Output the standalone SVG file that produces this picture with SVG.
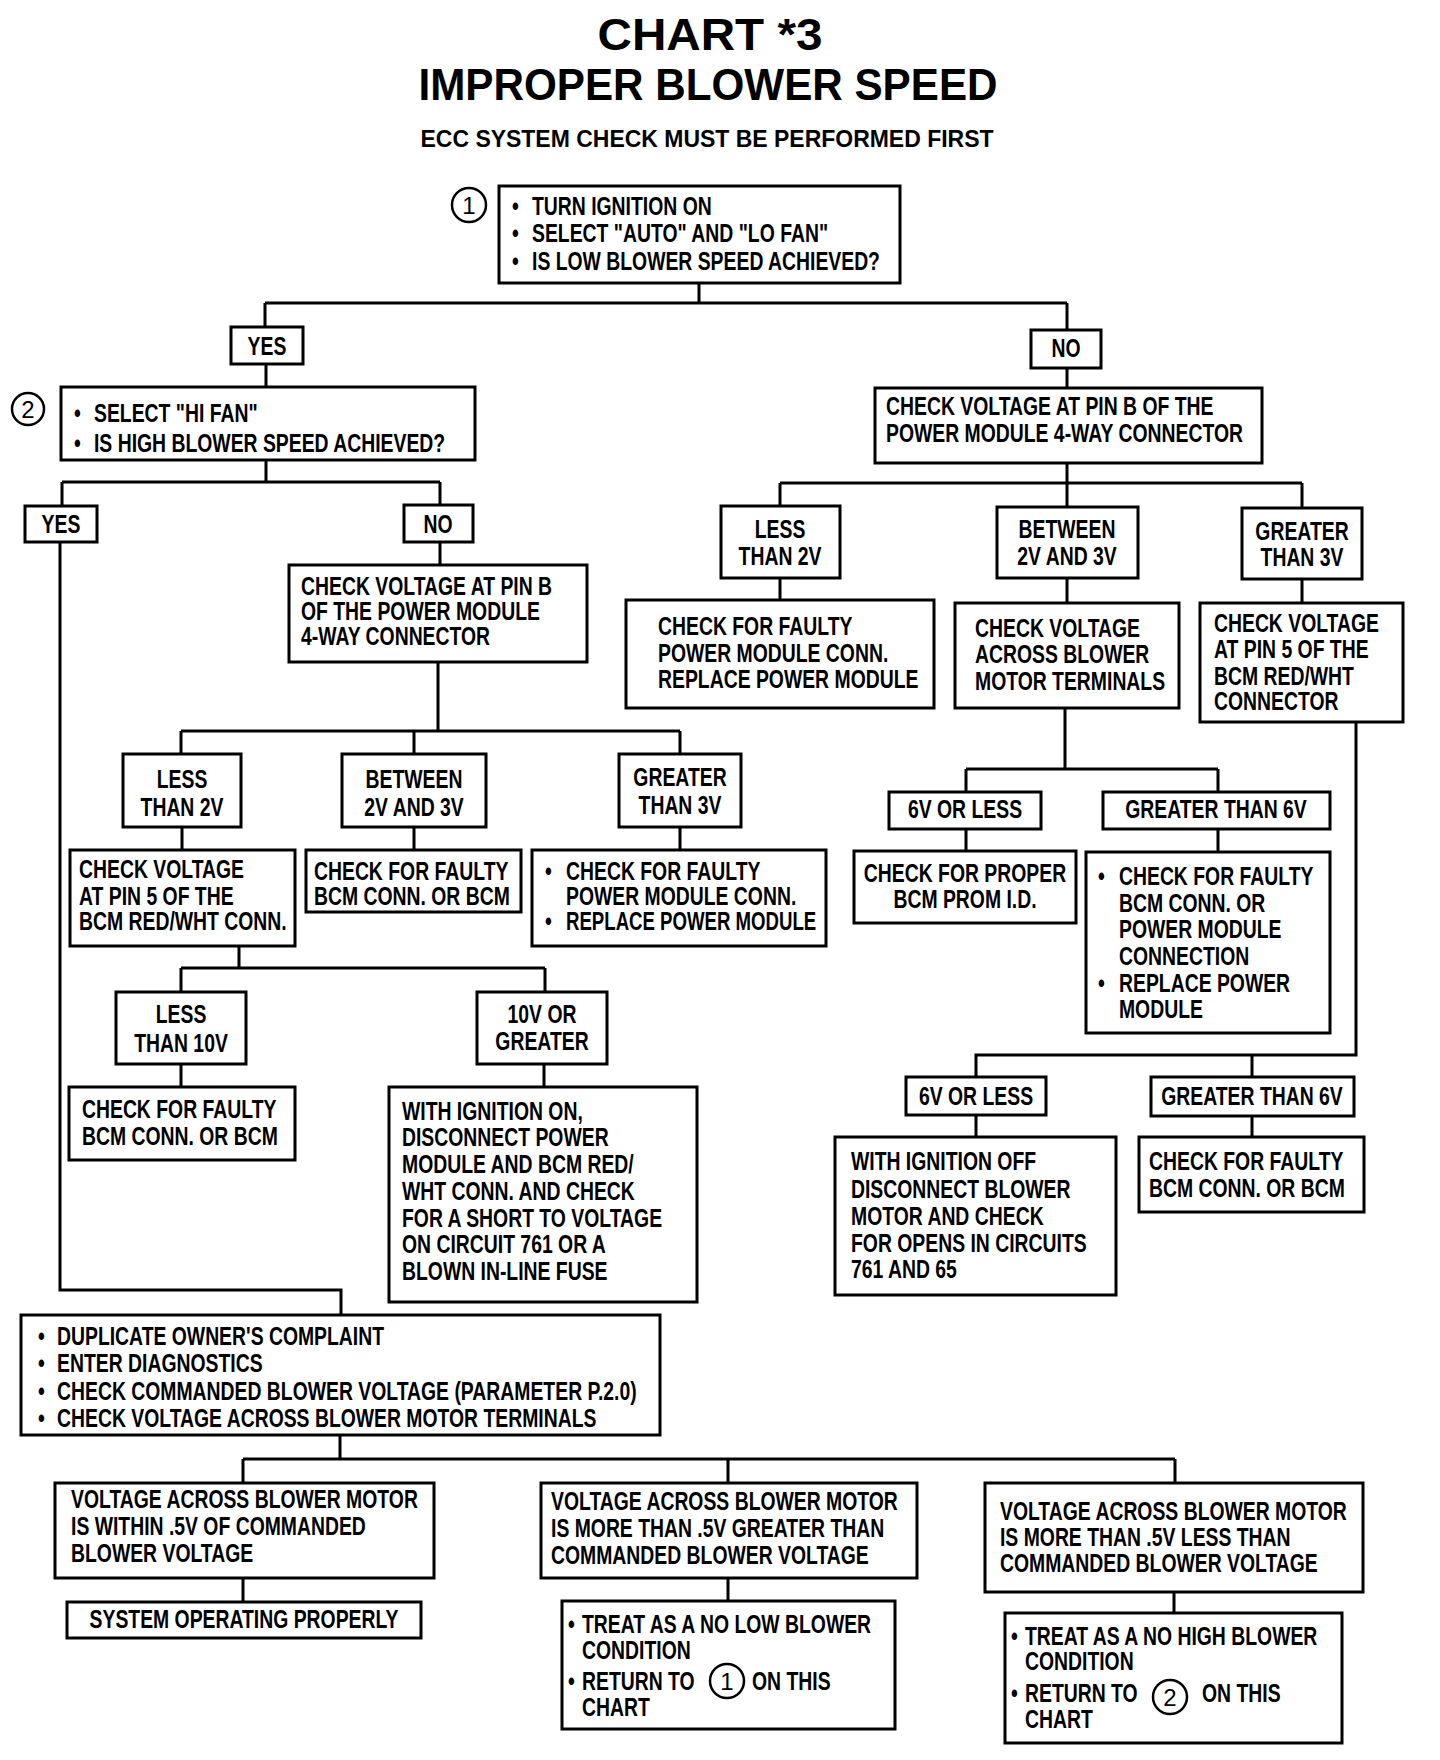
<svg xmlns="http://www.w3.org/2000/svg" width="1440" height="1760" viewBox="0 0 1440 1760">
<style>
.bg{fill:#fff}
.box{fill:#fff;stroke:#000;stroke-width:3}
.conn{fill:none;stroke:#000;stroke-width:3}
.cir{fill:#fff;stroke:#000;stroke-width:2.5}
text{font-family:"Liberation Sans",Arial,sans-serif;font-weight:bold;font-size:25px;fill:#000;transform-box:fill-box;transform-origin:left center;transform:scaleX(0.775)}
.c{text-anchor:middle;transform-origin:center}
.tight{transform:scaleX(0.745)}
.title{font-size:45px;transform:none}
.sub{font-size:24px;transform:none}
.num{font-weight:normal;font-size:24px;transform:none}
</style>
<rect class="bg" x="0" y="0" width="1440" height="1760"/>
<g id="title">
<text class="title c" x="710" y="50" textLength="225" lengthAdjust="spacingAndGlyphs">CHART *3</text>
<text class="title c" x="708" y="100" textLength="579" lengthAdjust="spacingAndGlyphs">IMPROPER  BLOWER  SPEED</text>
<text class="sub c" x="707" y="147" textLength="573" lengthAdjust="spacingAndGlyphs">ECC SYSTEM CHECK MUST BE PERFORMED FIRST</text>
</g>
<g id="connectors">
<path class="conn" d="M699 283V303M265 303H1067M265 303V327M1067 303V330"/>
<path class="conn" d="M266 364V387"/>
<path class="conn" d="M266 460V482M62 482H440M62 482V506M440 482V505"/>
<path class="conn" d="M440 542V565"/>
<path class="conn" d="M438 662V731M181 731H680M181 731V754M414 731V754M680 731V754"/>
<path class="conn" d="M182 827V850M414 827V850M680 827V850"/>
<path class="conn" d="M239 946V968M181 968H545M181 968V992M545 968V992"/>
<path class="conn" d="M181 1064V1087M544 1064V1087"/>
<path class="conn" d="M60 542V1290H341V1315"/>
<path class="conn" d="M340 1435V1459M243 1459H1175M243 1459V1483M728 1459V1483M1175 1459V1483"/>
<path class="conn" d="M243 1578V1602M728 1578V1601M1174 1592V1613"/>
<path class="conn" d="M1067 368V388"/>
<path class="conn" d="M1067 463V483M780 483H1302M780 483V506M1067 483V507M1302 483V508"/>
<path class="conn" d="M780 578V600M1067 578V603M1302 579V603"/>
<path class="conn" d="M1065 708V769M966 769H1218M966 769V792M1218 769V792"/>
<path class="conn" d="M966 829V851M1218 829V852"/>
<path class="conn" d="M1356 722V1055H976V1077M1252 1055V1077"/>
<path class="conn" d="M976 1115V1137M1252 1116V1137"/>
</g>
<g id="n1">
<circle class="cir" cx="469" cy="205" r="17"/>
<text class="num c" x="469" y="214">1</text>
<rect class="box" x="499" y="186" width="401" height="97"/>
<text x="512" y="215">•</text><text x="532" y="215">TURN IGNITION ON</text>
<text x="512" y="242">•</text><text x="532" y="242">SELECT "AUTO" AND "LO FAN"</text>
<text x="512" y="270">•</text><text x="532" y="270">IS LOW BLOWER SPEED ACHIEVED?</text>
</g>
<g id="yes1"><rect class="box" x="231" y="327" width="72" height="37"/><text class="c" x="267" y="355">YES</text></g>
<g id="no1"><rect class="box" x="1031" y="330" width="70" height="38"/><text class="c" x="1066" y="357">NO</text></g>
<g id="n2">
<circle class="cir" cx="28" cy="409" r="16"/>
<text class="num c" x="28" y="418">2</text>
<rect class="box" x="61" y="387" width="414" height="73"/>
<text x="74" y="422">•</text><text x="94" y="422">SELECT "HI FAN"</text>
<text x="74" y="452">•</text><text x="94" y="452">IS HIGH BLOWER SPEED ACHIEVED?</text>
</g>
<g id="yes2"><rect class="box" x="25" y="506" width="72" height="36"/><text class="c" x="61" y="533">YES</text></g>
<g id="no2"><rect class="box" x="404" y="505" width="69" height="37"/><text class="c" x="438" y="533">NO</text></g>
<g id="n3">
<rect class="box" x="289" y="565" width="298" height="97"/>
<text x="301" y="595">CHECK VOLTAGE AT PIN B</text>
<text x="301" y="620">OF THE POWER MODULE</text>
<text x="301" y="645">4-WAY CONNECTOR</text>
</g>
<g id="l2v"><rect class="box" x="123" y="754" width="118" height="73"/><text class="c" x="182" y="788">LESS</text><text class="c" x="182" y="816">THAN 2V</text></g>
<g id="b23"><rect class="box" x="342" y="754" width="144" height="73"/><text class="c" x="414" y="788">BETWEEN</text><text class="c" x="414" y="816">2V AND 3V</text></g>
<g id="g3"><rect class="box" x="619" y="754" width="122" height="73"/><text class="c" x="680" y="786">GREATER</text><text class="c" x="680" y="814">THAN 3V</text></g>
<g id="pin5l">
<rect class="box" x="70" y="850" width="225" height="96"/>
<text x="79" y="878">CHECK VOLTAGE</text>
<text x="79" y="905">AT PIN 5 OF THE</text>
<text x="79" y="930">BCM RED/WHT CONN.</text>
</g>
<g id="bcm1">
<rect class="box" x="306" y="850" width="215" height="62"/>
<text x="314" y="880">CHECK FOR FAULTY</text>
<text x="314" y="905">BCM CONN. OR BCM</text>
</g>
<g id="pm1">
<rect class="box" x="532" y="850" width="294" height="96"/>
<text x="545" y="880">•</text><text x="566" y="880">CHECK FOR FAULTY</text>
<text x="566" y="905">POWER MODULE CONN.</text>
<text x="545" y="930">•</text><text class="tight" x="566" y="930">REPLACE POWER MODULE</text>
</g>
<g id="l10"><rect class="box" x="116" y="992" width="130" height="72"/><text class="c" x="181" y="1023">LESS</text><text class="c" x="181" y="1052">THAN 10V</text></g>
<g id="g10"><rect class="box" x="477" y="992" width="130" height="72"/><text class="c" x="542" y="1023">10V OR</text><text class="c" x="542" y="1050">GREATER</text></g>
<g id="bcm2">
<rect class="box" x="69" y="1087" width="226" height="73"/>
<text x="82" y="1118">CHECK FOR FAULTY</text>
<text x="82" y="1145">BCM CONN. OR BCM</text>
</g>
<g id="ignon">
<rect class="box" x="389" y="1087" width="308" height="215"/>
<text x="402" y="1120">WITH IGNITION ON,</text>
<text x="402" y="1146">DISCONNECT POWER</text>
<text x="402" y="1173">MODULE AND BCM RED/</text>
<text x="402" y="1200">WHT CONN. AND CHECK</text>
<text x="402" y="1227">FOR A SHORT TO VOLTAGE</text>
<text x="402" y="1253">ON CIRCUIT 761 OR A</text>
<text x="402" y="1280">BLOWN IN-LINE FUSE</text>
</g>
<g id="dup">
<rect class="box" x="21" y="1315" width="639" height="120"/>
<text x="38" y="1345">•</text><text x="57" y="1345">DUPLICATE OWNER'S COMPLAINT</text>
<text x="38" y="1372">•</text><text x="57" y="1372">ENTER DIAGNOSTICS</text>
<text x="38" y="1400">•</text><text x="57" y="1400">CHECK COMMANDED BLOWER VOLTAGE (PARAMETER P.2.0)</text>
<text x="38" y="1427">•</text><text x="57" y="1427">CHECK VOLTAGE ACROSS BLOWER MOTOR TERMINALS</text>
</g>
<g id="within">
<rect class="box" x="55" y="1483" width="379" height="95"/>
<text x="71" y="1508">VOLTAGE ACROSS BLOWER MOTOR</text>
<text x="71" y="1535">IS WITHIN .5V OF COMMANDED</text>
<text x="71" y="1562">BLOWER VOLTAGE</text>
</g>
<g id="over">
<rect class="box" x="541" y="1483" width="376" height="95"/>
<text x="551" y="1510">VOLTAGE ACROSS BLOWER MOTOR</text>
<text x="551" y="1537">IS MORE THAN .5V GREATER THAN</text>
<text x="551" y="1564">COMMANDED BLOWER VOLTAGE</text>
</g>
<g id="under">
<rect class="box" x="985" y="1483" width="378" height="109"/>
<text x="1000" y="1520">VOLTAGE ACROSS BLOWER MOTOR</text>
<text x="1000" y="1546">IS MORE THAN .5V LESS THAN</text>
<text x="1000" y="1572">COMMANDED BLOWER VOLTAGE</text>
</g>
<g id="sysok"><rect class="box" x="67" y="1602" width="354" height="36"/><text class="c" x="244" y="1628">SYSTEM OPERATING PROPERLY</text></g>
<g id="treat1">
<rect class="box" x="562" y="1601" width="333" height="128"/>
<text x="568" y="1633">•</text><text x="582" y="1633">TREAT AS A NO LOW BLOWER</text>
<text x="582" y="1659">CONDITION</text>
<text x="568" y="1690">•</text><text x="582" y="1690">RETURN TO</text>
<circle class="cir" cx="727" cy="1681" r="17"/>
<text class="num c" x="727" y="1690">1</text>
<text x="752" y="1690">ON THIS</text>
<text x="582" y="1716">CHART</text>
</g>
<g id="treat2">
<rect class="box" x="1005" y="1613" width="337" height="130"/>
<text x="1011" y="1645">•</text><text x="1025" y="1645">TREAT AS A NO HIGH BLOWER</text>
<text x="1025" y="1670">CONDITION</text>
<text x="1011" y="1702">•</text><text x="1025" y="1702">RETURN TO</text>
<circle class="cir" cx="1170" cy="1697" r="17"/>
<text class="num c" x="1170" y="1706">2</text>
<text x="1202" y="1702">ON THIS</text>
<text x="1025" y="1728">CHART</text>
</g>
<g id="nr">
<rect class="box" x="875" y="388" width="387" height="75"/>
<text x="886" y="415">CHECK VOLTAGE AT PIN B OF THE</text>
<text x="886" y="442">POWER MODULE 4-WAY CONNECTOR</text>
</g>
<g id="rl2"><rect class="box" x="721" y="506" width="119" height="72"/><text class="c" x="780" y="538">LESS</text><text class="c" x="780" y="565">THAN 2V</text></g>
<g id="rb23"><rect class="box" x="997" y="507" width="141" height="71"/><text class="c" x="1067" y="538">BETWEEN</text><text class="c" x="1067" y="565">2V AND 3V</text></g>
<g id="rg3"><rect class="box" x="1242" y="508" width="120" height="71"/><text class="c" x="1302" y="540">GREATER</text><text class="c" x="1302" y="566">THAN 3V</text></g>
<g id="rpm">
<rect class="box" x="626" y="600" width="308" height="108"/>
<text x="658" y="635">CHECK FOR FAULTY</text>
<text x="658" y="662">POWER MODULE CONN.</text>
<text x="658" y="688">REPLACE POWER MODULE</text>
</g>
<g id="racross">
<rect class="box" x="955" y="603" width="224" height="105"/>
<text x="975" y="637">CHECK VOLTAGE</text>
<text x="975" y="663">ACROSS BLOWER</text>
<text x="975" y="690">MOTOR TERMINALS</text>
</g>
<g id="rpin5">
<rect class="box" x="1200" y="603" width="203" height="119"/>
<text x="1214" y="632">CHECK VOLTAGE</text>
<text x="1214" y="658">AT PIN 5 OF THE</text>
<text x="1214" y="685">BCM RED/WHT</text>
<text x="1214" y="710">CONNECTOR</text>
</g>
<g id="r6vl"><rect class="box" x="889" y="792" width="152" height="37"/><text class="c" x="965" y="818">6V OR LESS</text></g>
<g id="rg6v"><rect class="box" x="1103" y="792" width="227" height="37"/><text class="c" x="1216" y="818">GREATER THAN 6V</text></g>
<g id="prom">
<rect class="box" x="854" y="851" width="222" height="72"/>
<text class="c" x="965" y="882">CHECK FOR PROPER</text>
<text class="c" x="965" y="908">BCM PROM I.D.</text>
</g>
<g id="rpmb">
<rect class="box" x="1086" y="852" width="244" height="181"/>
<text x="1098" y="885">•</text><text x="1119" y="885">CHECK FOR FAULTY</text>
<text x="1119" y="912">BCM CONN. OR</text>
<text x="1119" y="938">POWER MODULE</text>
<text x="1119" y="965">CONNECTION</text>
<text x="1098" y="992">•</text><text x="1119" y="992">REPLACE POWER</text>
<text x="1119" y="1018">MODULE</text>
</g>
<g id="r6vl2"><rect class="box" x="906" y="1077" width="140" height="38"/><text class="c" x="976" y="1105">6V OR LESS</text></g>
<g id="rg6v2"><rect class="box" x="1151" y="1077" width="203" height="39"/><text class="c" x="1252" y="1105">GREATER THAN 6V</text></g>
<g id="ignoff">
<rect class="box" x="835" y="1137" width="281" height="158"/>
<text x="851" y="1170">WITH IGNITION OFF</text>
<text x="851" y="1198">DISCONNECT BLOWER</text>
<text x="851" y="1225">MOTOR AND CHECK</text>
<text x="851" y="1252">FOR OPENS IN CIRCUITS</text>
<text x="851" y="1278">761 AND 65</text>
</g>
<g id="bcm3">
<rect class="box" x="1139" y="1137" width="225" height="75"/>
<text x="1149" y="1170">CHECK FOR FAULTY</text>
<text x="1149" y="1197">BCM CONN. OR BCM</text>
</g>
</svg>
